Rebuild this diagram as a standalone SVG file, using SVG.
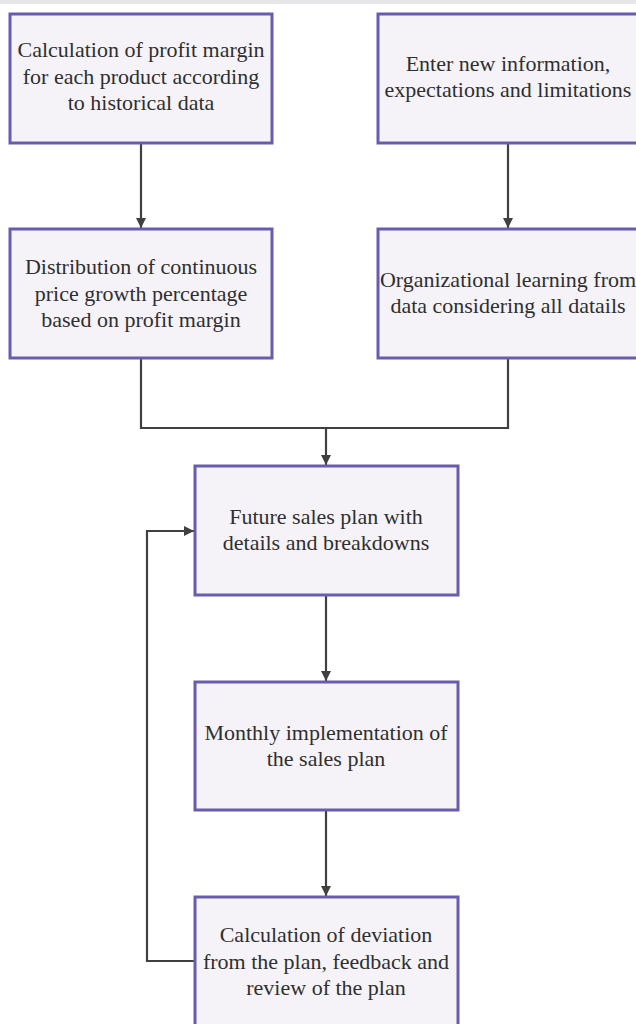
<svg xmlns="http://www.w3.org/2000/svg" width="636" height="1024" viewBox="0 0 636 1024">
<defs>
<style>
.box{fill:#f5f3f8;stroke:#6a5cad;stroke-width:3}
.t{font-family:"Liberation Serif","Times New Roman",serif;font-size:22px;fill:#2f2f2f;text-anchor:middle}
.c{fill:none;stroke:#404040;stroke-width:2.2}
</style>
<marker id="ah2" viewBox="0 0 10 10" refX="10" refY="5" markerWidth="10" markerHeight="10" orient="auto" markerUnits="userSpaceOnUse">
<path d="M0,0 L10,5 L0,10 z" fill="#404040"/>
</marker>
</defs>
<rect x="0" y="0" width="636" height="1024" fill="#ffffff"/>
<rect x="0" y="0" width="636" height="4" fill="#e6e6e8"/>
<g id="connectors">
<path class="c" d="M141,143 V228" marker-end="url(#ah2)"/>
<path class="c" d="M508,143 V228" marker-end="url(#ah2)"/>
<path class="c" d="M141,358 V428 H508 V358"/>
<path class="c" d="M326,428 V465" marker-end="url(#ah2)"/>
<path class="c" d="M326,595 V681" marker-end="url(#ah2)"/>
<path class="c" d="M326,810 V896" marker-end="url(#ah2)"/>
<path class="c" d="M195,961 H147 V531 H194" marker-end="url(#ah2)"/>
</g>
<g id="n1">
<rect class="box" x="10" y="14" width="262" height="129"/>
<text class="t" x="141" y="57">Calculation of profit margin</text>
<text class="t" x="141" y="83.5">for each product according</text>
<text class="t" x="141" y="110">to historical data</text>
</g>
<g id="n2">
<rect class="box" x="378" y="14" width="262" height="129"/>
<text class="t" x="508" y="71">Enter new information,</text>
<text class="t" x="508" y="97">expectations and limitations</text>
</g>
<g id="n3">
<rect class="box" x="10" y="229" width="262" height="129"/>
<text class="t" x="141" y="274">Distribution of continuous</text>
<text class="t" x="141" y="300.5">price growth percentage</text>
<text class="t" x="141" y="327">based on profit margin</text>
</g>
<g id="n4">
<rect class="box" x="378" y="229" width="262" height="129"/>
<text class="t" x="508" y="287">Organizational learning from</text>
<text class="t" x="508" y="313">data considering all datails</text>
</g>
<g id="n5">
<rect class="box" x="195" y="466" width="263" height="129"/>
<text class="t" x="326" y="524">Future sales plan with</text>
<text class="t" x="326" y="550">details and breakdowns</text>
</g>
<g id="n6">
<rect class="box" x="195" y="682" width="263" height="128"/>
<text class="t" x="326" y="739.5">Monthly implementation of</text>
<text class="t" x="326" y="765.5">the sales plan</text>
</g>
<g id="n7">
<rect class="box" x="195" y="897" width="263" height="135"/>
<text class="t" x="326" y="942">Calculation of deviation</text>
<text class="t" x="326" y="968.5">from the plan, feedback and</text>
<text class="t" x="326" y="995">review of the plan</text>
</g>
</svg>
